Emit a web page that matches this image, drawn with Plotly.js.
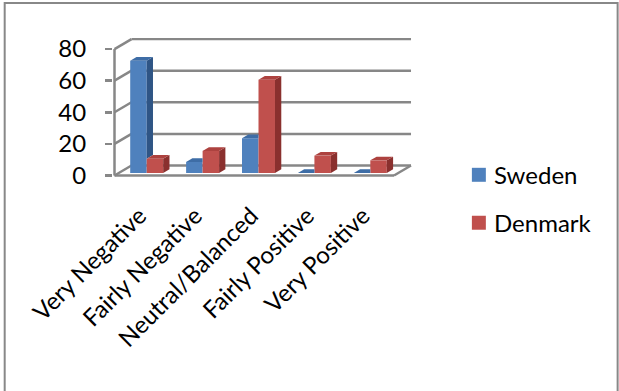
<!DOCTYPE html>
<html>
<head>
<meta charset="utf-8">
<script src="https://cdn.plot.ly/plotly-3.0.1.min.js"></script>
<style>
  html, body { margin: 0; padding: 0; background: #ffffff; }
  #chart { width: 619px; height: 391px; }
</style>
</head>
<body>
<div id="chart"></div>
<script>
// Survey answers per country (percent)
const categories = ['Very Negative', 'Fairly Negative', 'Neutral/Balanced', 'Fairly Positive', 'Very Positive'];
const seriesNames = ['Sweden', 'Denmark'];
const sweden = [71, 7, 22, 0, 0];
const denmark = [9, 14, 59, 11, 8];
const yTicks = [0, 20, 40, 60, 80];
const yMax = 80;

// Styling
const FONT = 'Lato, "Open Sans", sans-serif';
const GRID = '#878787';
const faceColors = {
  Sweden:  { front: '#4F81BD', top: '#3E6DA6', side: '#2F5585' },
  Denmark: { front: '#C0504D', top: '#AD423F', side: '#8A302E' }
};

// Page geometry (pixels)
const W = 619, H = 391;
const PXU = 56;          // pixels per category
const PYU = 1.5825;      // pixels per value unit
const ZERO_PX = 175.7;   // vertical pixel of the front floor edge
const LEFT_PX = 112.5;

// Pseudo-3D depth: walls and bar blocks
const DX = 0.304, DY = 6.32;        // full depth of the box, in axis units
const F0 = 0.25, FD = 0.37;         // bar block start and depth as fractions of the box
const BW = 0.295;                   // bar width in category units
const bx = F0 * DX, b0 = F0 * DY, bdx = FD * DX, bdy = FD * DY;

const xRange = [-0.5 - 1.5 / PXU, 4.5 + DX + 3 / PXU];
const yRange = [-1.5 / PYU, 87];
const plotW = (xRange[1] - xRange[0]) * PXU;
const plotH = (yRange[1] - yRange[0]) * PYU;
const margin = {
  l: LEFT_PX,
  r: W - LEFT_PX - plotW,
  t: ZERO_PX - yRange[1] * PYU,
  b: H - ZERO_PX - 1.5,
  pad: 0
};
const pxX = px => (px - margin.l) / plotW;
const pxY = py => (H - margin.b - py) / plotH;

const idx = categories.map((_, i) => i);
const data = [];

function barBlocks(name, values, other, isLeft) {
  const c = faceColors[name];
  const x0s = idx.map(i => isLeft ? i + bx - BW : i + bx);
  // front faces
  data.push({
    type: 'bar', name: name,
    x: x0s.map(x => x + BW / 2), y: values, base: b0, width: BW,
    marker: { color: c.front, line: { width: 0 } },
    showlegend: false, hoverinfo: 'skip'
  });
  const sideX = [], sideY = [], topX = [], topY = [];
  values.forEach((v, i) => {
    const x0 = x0s[i], x1 = x0 + BW, t = b0 + v;
    // right-hand side face; for the left block only the part above its neighbour shows
    const from = isLeft ? other[i] : 0;
    if (v > from) {
      sideX.push(x1, x1 + bdx, x1 + bdx, x1, x1, null);
      sideY.push(b0 + from, b0 + from + bdy, t + bdy, t, b0 + from, null);
    }
    // top face; trimmed where a taller neighbour's front face covers it
    if (isLeft && other[i] > v) {
      topX.push(x0, x1, x1, x0 + bdx, x0, null);
      topY.push(t, t, t + bdy, t + bdy, t, null);
    } else {
      topX.push(x0, x1, x1 + bdx, x0 + bdx, x0, null);
      topY.push(t, t, t + bdy, t + bdy, t, null);
    }
  });
  data.push({
    type: 'scatter', mode: 'lines', x: sideX, y: sideY, fill: 'toself',
    fillcolor: c.side, line: { width: 0, color: c.side }, showlegend: false, hoverinfo: 'skip'
  });
  data.push({
    type: 'scatter', mode: 'lines', x: topX, y: topY, fill: 'toself',
    fillcolor: c.top, line: { width: 0, color: c.top }, showlegend: false, hoverinfo: 'skip'
  });
}
barBlocks('Sweden', sweden, denmark, true);
barBlocks('Denmark', denmark, sweden, false);

// Walls, floor and axis lines
const shapes = [];
const line = (x0, y0, x1, y1) => shapes.push({
  type: 'line', xref: 'x', yref: 'y', x0, y0, x1, y1, layer: 'below',
  line: { color: GRID, width: 2.5 }
});
yTicks.forEach(v => {
  line(-0.5, v, -0.5 + DX, v + DY);                 // side wall
  line(-0.5 + DX, v + DY, 4.5 + DX, v + DY);        // back wall gridline
});
line(-0.5, 0, 4.5, 0);                              // front floor edge
line(4.5, 0, 4.5 + DX, DY);                         // right floor edge
line(-0.5, 0, -0.5, yMax);                          // value axis

// Chart frame
shapes.push({
  type: 'rect', xref: 'paper', yref: 'paper',
  x0: pxX(4), x1: pxX(618), y0: pxY(3), y1: pxY(420),
  line: { color: '#888888', width: 2 }, fillcolor: 'rgba(0,0,0,0)', layer: 'above'
});

// Legend
const annotations = [];
const legendRows = [175, 223];
seriesNames.forEach((name, k) => {
  const cy = legendRows[k];
  shapes.push({
    type: 'rect', xref: 'paper', yref: 'paper',
    x0: pxX(472), x1: pxX(486), y0: pxY(cy - 7), y1: pxY(cy + 7),
    line: { width: 0 }, fillcolor: faceColors[name].front
  });
  annotations.push({
    xref: 'paper', yref: 'paper', x: pxX(492), y: pxY(cy),
    xanchor: 'left', yanchor: 'middle', showarrow: false, text: name,
    font: { family: FONT, size: 24, color: '#000000' }
  });
});

const layout = {
  width: W, height: H, margin: margin,
  paper_bgcolor: '#ffffff', plot_bgcolor: '#ffffff',
  font: { family: FONT, size: 24, color: '#000000' },
  showlegend: false,
  barmode: 'overlay',
  xaxis: {
    range: xRange, showgrid: false, zeroline: false, showline: false,
    tickmode: 'array', tickvals: idx, ticktext: categories,
    ticks: '', tickangle: -45, ticklabelstandoff: 19, ticklabelshift: -3,
    tickfont: { family: FONT, size: 24, color: '#000000' }
  },
  xaxis2: {
    overlaying: 'x', anchor: 'y', side: 'bottom', range: xRange,
    showgrid: false, zeroline: false, showline: false, showticklabels: false,
    tickmode: 'array', tickvals: [-0.5, 0.5, 1.5, 2.5, 3.5, 4.5],
    ticks: 'outside', ticklen: 7, tickwidth: 2.5, tickcolor: GRID
  },
  yaxis: {
    range: yRange, showgrid: false, zeroline: false, showline: false,
    tickmode: 'array', tickvals: yTicks,
    ticks: 'outside', ticklen: 7, tickwidth: 2.5, tickcolor: GRID,
    ticklabelstandoff: 14,
    tickfont: { family: FONT, size: 24, color: '#000000' }
  },
  shapes: shapes,
  annotations: annotations
};

Plotly.newPlot('chart', data, layout, { staticPlot: true, displayModeBar: false });
</script>
</body>
</html>
